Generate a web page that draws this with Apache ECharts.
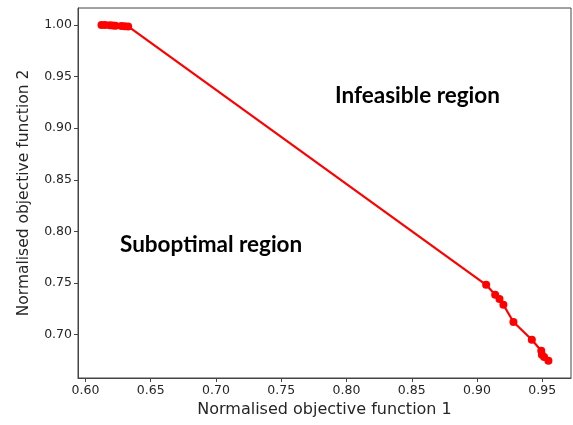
<!DOCTYPE html>
<html>
<head>
<meta charset="utf-8">
<script src="https://cdn.jsdelivr.net/npm/echarts@6/dist/echarts.min.js"></script>
<style>html,body{margin:0;padding:0;background:#fff;}#c{width:573px;height:425px;}</style>
</head>
<body>
<div id="c"></div>
<script>
const xValues = [0.6123, 0.6150, 0.6186, 0.6209, 0.6230, 0.6276, 0.6300, 0.6327, 0.9070, 0.9139, 0.9172, 0.9202, 0.9279, 0.9420, 0.9492, 0.9497, 0.9514, 0.9547];
const yValues = [1.0000, 1.0000, 0.9997, 0.9995, 0.9993, 0.9990, 0.9988, 0.9985, 0.7483, 0.7386, 0.7345, 0.7290, 0.7122, 0.6951, 0.6844, 0.6806, 0.6783, 0.6747];
const xTicks = [0.60, 0.65, 0.70, 0.75, 0.80, 0.85, 0.90, 0.95];
const yTicks = [0.70, 0.75, 0.80, 0.85, 0.90, 0.95, 1.00];
const regionLabels = ['Infeasible region', 'Suboptimal region'];

const chart = echarts.init(document.getElementById('c'), null, {renderer: 'canvas'});
const tickFont = {fontFamily: 'DejaVu Sans', fontSize: 12.5, color: '#262626'};
chart.setOption({
  animation: false,
  grid: {left: 78, right: 2, top: 8, bottom: 47, show: true, borderColor: '#444', borderWidth: 1},
  xAxis: {
    type: 'value', min: 0.5943, max: 0.972,
    name: 'Normalised objective function 1', nameLocation: 'middle', nameGap: 24,
    nameTextStyle: {fontFamily: 'DejaVu Sans', fontSize: 16, color: '#262626'},
    axisLine: {show: true, lineStyle: {color: '#444'}},
    axisTick: {show: true, inside: false, length: 4, lineStyle: {color: '#444'}, customValues: xTicks},
    axisLabel: Object.assign({margin: 6, customValues: xTicks, formatter: v => v.toFixed(2)}, tickFont),
    splitLine: {show: false}
  },
  yAxis: {
    type: 'value', min: 0.658, max: 1.0164,
    name: 'Normalised objective function 2', nameLocation: 'middle', nameGap: 46,
    nameTextStyle: {fontFamily: 'DejaVu Sans', fontSize: 15.5, color: '#262626'},
    axisLine: {show: true, lineStyle: {color: '#444'}},
    axisTick: {show: true, inside: false, length: 4, lineStyle: {color: '#444'}, customValues: yTicks},
    axisLabel: Object.assign({margin: 6, customValues: yTicks, formatter: v => v.toFixed(2)}, tickFont),
    splitLine: {show: false}
  },
  series: [{
    type: 'line',
    data: xValues.map((x, i) => [x, yValues[i]]),
    symbol: 'circle', symbolSize: 8, showSymbol: true,
    lineStyle: {color: '#ff0000', width: 2.2},
    itemStyle: {color: '#ff0000'}
  }],
  graphic: [
    {type: 'text', left: 335, top: 84, style: {text: regionLabels[0], font: 'bold 22.5px Lato', fill: '#000'}},
    {type: 'text', left: 120, top: 233, style: {text: regionLabels[1], font: 'bold 22.5px Lato', fill: '#000'}}
  ]
});
</script>
</body>
</html>
